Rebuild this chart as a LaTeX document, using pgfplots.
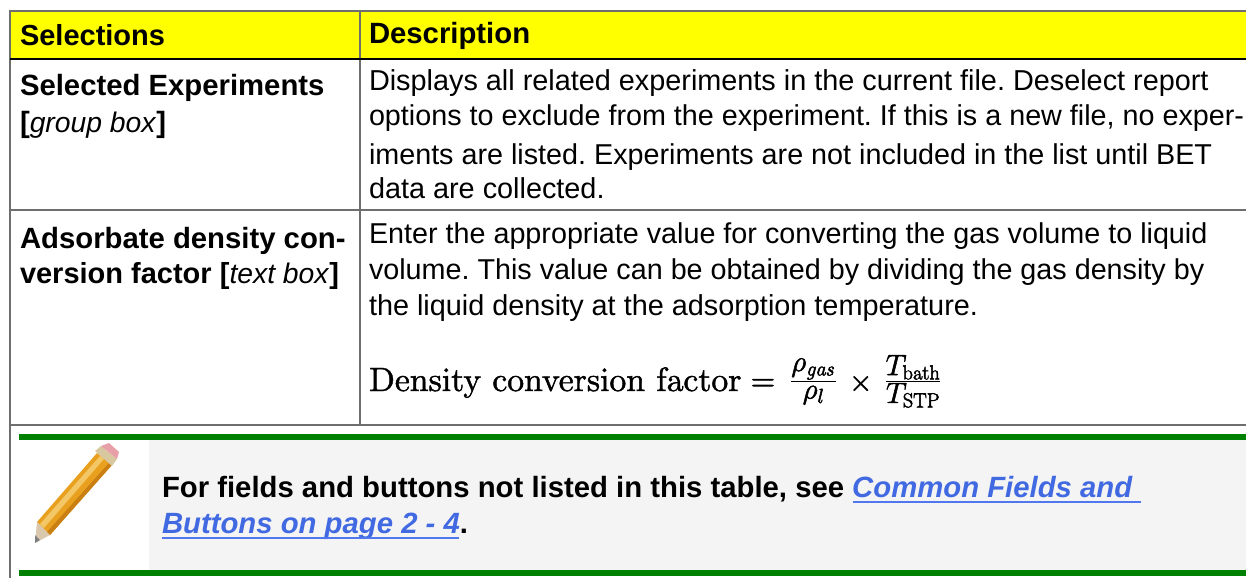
\documentclass[border=0pt]{standalone}
\usepackage{pgfplots}
\pgfplotsset{compat=1.18}
\usepackage[no-math]{fontspec}
\usepackage{amsmath}
\setmainfont{Liberation Sans}
\definecolor{bordergray}{HTML}{6E6E6E}
\definecolor{linkblue}{HTML}{4169E1}
\definecolor{linkline}{HTML}{5077EE}
\definecolor{notegreen}{HTML}{008000}
\definecolor{notebg}{HTML}{F4F4F4}
\definecolor{headyellow}{HTML}{FFFF00}
\definecolor{pencilo}{HTML}{E8A01E}
\definecolor{pencild}{HTML}{C97F12}
\definecolor{pencill}{HTML}{F3C766}
\definecolor{eraser}{HTML}{E8A0A8}
\definecolor{ferrule}{HTML}{D8C8A0}
\definecolor{woodc}{HTML}{D9C8AE}
\font\ften=cmr10 at 33.7bp
\newcommand{\body}{\fontsize{28.83bp}{34bp}\selectfont\frenchspacing}
\newcommand{\sm}{\fontsize{28.73bp}{34bp}\selectfont}
\newcommand{\bodyb}{\fontsize{29.3bp}{34bp}\selectfont\frenchspacing\bfseries}
\newcommand{\bit}[1]{{\fontsize{28.3bp}{34bp}\selectfont\textnormal{\textit{#1}}}}
\newcommand{\tx}[3]{\node[anchor=base west,inner sep=0pt,outer sep=0pt] at (axis cs:#1,#2) {\body #3};}
\newcommand{\txb}[3]{\node[anchor=base west,inner sep=0pt,outer sep=0pt] at (axis cs:#1,#2) {\bodyb #3};}
\newcommand{\fp}[1]{\mbox{\fontsize{24.8bp}{28bp}\selectfont $#1$}}
\newcommand{\fr}[2]{\raisebox{2.5bp}{\scalebox{1.18}{$\frac{\fp{#1}}{\fp{#2}}$}}}
\begin{document}
\begin{tikzpicture}[x=1bp,y=1bp]
\useasboundingbox (0,0) rectangle (1246bp,578bp);
\begin{axis}[
  at={(0,0)},anchor=south west,
  scale only axis,width=1246bp,height=578bp,
  xmin=0,xmax=1246,ymin=0,ymax=578,y dir=reverse,
  axis lines=none,clip=true,
]
% backgrounds
\addplot[draw=none,fill=headyellow] coordinates {(11,12)(1246,12)(1246,58)(11,58)} --cycle;
\addplot[draw=none,fill=notebg] coordinates {(149,440)(1246,440)(1246,570)(149,570)} --cycle;
% rules
\addplot[draw=bordergray,line width=2bp] coordinates {(10,578)(10,11)(1246,11)};
\addplot[draw=bordergray,line width=2bp] coordinates {(360,11)(360,425)};
\addplot[draw=black,line width=2bp] coordinates {(10,59)(1246,59)};
\addplot[draw=bordergray,line width=2bp] coordinates {(10,210)(1246,210)};
\addplot[draw=bordergray,line width=2bp] coordinates {(10,425)(1246,425)};
\addplot[draw=notegreen,line width=6bp] coordinates {(19,437)(1246,437)};
\addplot[draw=notegreen,line width=6bp] coordinates {(19,573)(1246,573)};
% pencil
\addplot[draw=none,fill=pencilo] coordinates {(97,453)(112,465)(50,535)(37,522)} --cycle;
\addplot[draw=none,fill=pencill] coordinates {(100,456)(104,459)(44,528)(40,524)} --cycle;
\addplot[draw=none,fill=pencild] coordinates {(109,463)(112,465)(50,535)(47,532)} --cycle;
\addplot[draw=none,fill=woodc] coordinates {(37,522)(50,535)(35,543)} --cycle;
\addplot[draw=none,fill=gray] coordinates {(35,535)(40,540)(35,543)} --cycle;
\addplot[draw=none,fill=ferrule] coordinates {(95,451)(101,446)(117,459)(112,466)} --cycle;
\addplot[draw=none,fill=eraser] coordinates {(101,446)(109,443)(119,452)(117,459)} --cycle;
% header
\txb{20}{46}{\fontsize{29bp}{34bp}\selectfont Selections}
\txb{369}{44}{Description}
% row 1
\txb{20}{95}{Selected Experiments}
\txb{20}{132}{[\bit{group box}]}
\tx{369}{91}{Displays all related experiments in the current file. Deselect report}
\tx{369}{125}{\sm options to exclude from the experiment. If this is a new file, no exper-}
\tx{369}{164}{\sm iments are listed. Experiments are not included in the list until BET}
\tx{369}{198}{data are collected.}
% row 2
\txb{20}{248}{Adsorbate density con-}
\txb{20}{283}{\fontsize{29bp}{34bp}\selectfont version factor [\bit{text box}]}
\tx{369}{243}{\sm Enter the appropriate value for converting the gas volume to liquid}
\tx{369}{279}{\sm volume. This value can be obtained by dividing the gas density by}
\tx{369}{315}{the liquid density at the adsorption temperature.}
\node[anchor=base west,inner sep=0pt] at (axis cs:369,391) {\fontsize{24.8bp}{34bp}\selectfont\special{pdf:code 2 Tr 0.45 w}{\ften Density conversion factor}\hspace{9bp}\scalebox{1.35}{$=$}\hspace{15bp}\fr{\rho_{\mathit{gas}}}{\rho_{l}}\hspace{12bp}\scalebox{1.2}{$\times$}\hspace{12bp}\fr{T_{\mathrm{bath}}}{T_{\mathrm{STP}}}\special{pdf:code 0 Tr 1 w}};
% note
\txb{162}{497}{For fields and buttons not listed in this table, see \textcolor{linkblue}{\textit{Common Fields and}}}
\txb{162}{533}{\textcolor{linkblue}{\textit{Buttons on page 2 - 4}}.}
\addplot[draw=linkline,line width=1.5bp] coordinates {(853,502)(1141,502)};
\addplot[draw=linkline,line width=1.5bp] coordinates {(162,538)(459,538)};
\end{axis}
\end{tikzpicture}
\end{document}
